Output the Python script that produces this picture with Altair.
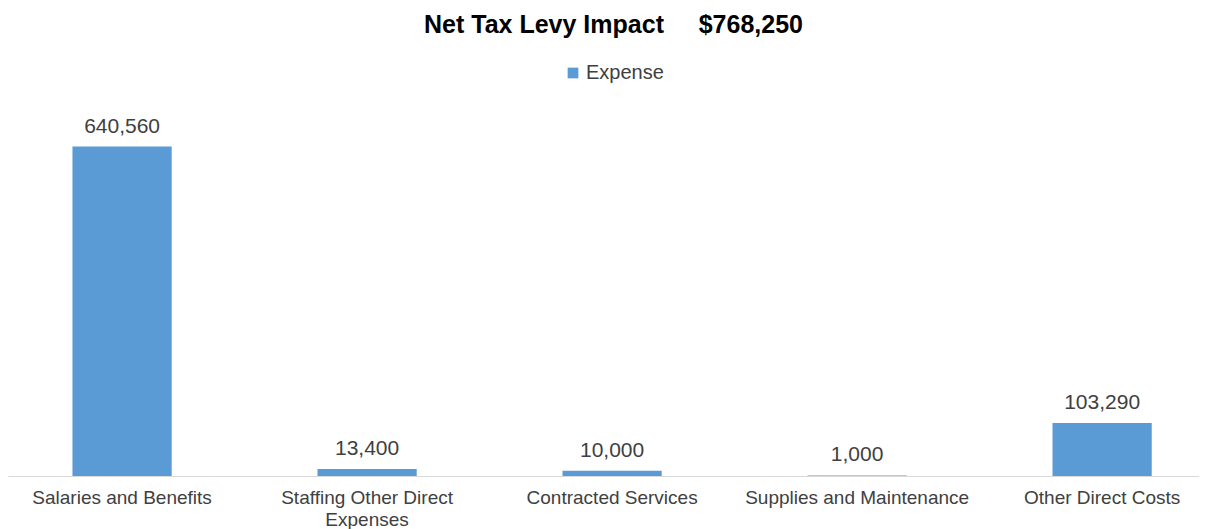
import altair as alt
import pandas as pd

categories = [
    "Salaries and Benefits",
    "Staffing Other Direct Expenses",
    "Contracted Services",
    "Supplies and Maintenance",
    "Other Direct Costs",
]
expense = [640560, 13400, 10000, 1000, 103290]
series_name = "Expense"
title_text = "Net Tax Levy Impact\u00a0\u00a0\u00a0\u00a0\u00a0$768,250"

df = pd.DataFrame({"category": categories, "value": expense, "series": series_name})

FONT = "Liberation Sans"
BAR = "#5b9bd5"

x = alt.X(
    "category:N",
    sort=categories,
    title=None,
    scale=alt.Scale(paddingInner=0.595, paddingOuter=0.228, align=0.577),
    axis=alt.Axis(
        labelAngle=0,
        labelFont=FONT,
        labelFontSize=19,
        labelColor="#404040",
        labelPadding=12,
        labelLineHeight=22,
        labelLimit=0,
        ticks=False,
        domainColor="#d9d9d9",
        domainWidth=1,
        grid=False,
        labelExpr="datum.label == 'Staffing Other Direct Expenses' ? ['Staffing Other Direct', 'Expenses'] : datum.label",
    ),
)
y = alt.Y("value:Q", scale=alt.Scale(domain=[0, 700000]), axis=None)

bars = alt.Chart(df).mark_bar(color=BAR).encode(
    x=x,
    y=y,
    color=alt.Color(
        "series:N",
        scale=alt.Scale(range=[BAR]),
        legend=alt.Legend(
            title=None,
            orient="none",
            legendX=555,
            legendY=-53,
            symbolType="square",
            symbolSize=115,
            symbolStrokeWidth=0,
            labelFont=FONT,
            labelFontSize=20,
            labelColor="#404040",
            labelOffset=3,
        ),
    ),
)

labels = alt.Chart(df).mark_text(
    baseline="alphabetic", dy=-14, font=FONT, fontSize=21, color="#404040"
).encode(
    x=alt.X("category:N", sort=categories),
    y=y,
    text=alt.Text("value:Q", format=",.0f"),
)

chart = (
    alt.layer(bars, labels)
    .properties(
        width=1191,
        height=360,
        autosize=alt.AutoSizeParams(type="none"),
        padding={"top": 108, "left": 0, "right": 0, "bottom": 53},
        title=alt.Title(
            title_text,
            font=FONT,
            fontSize=25,
            fontWeight="bold",
            color="#000000",
            anchor="middle",
            dx=10,
            offset=25,
        ),
    )
    .configure_view(stroke=None)
)

chart.save("out.html", embed_options={"renderer": "svg", "actions": False})
